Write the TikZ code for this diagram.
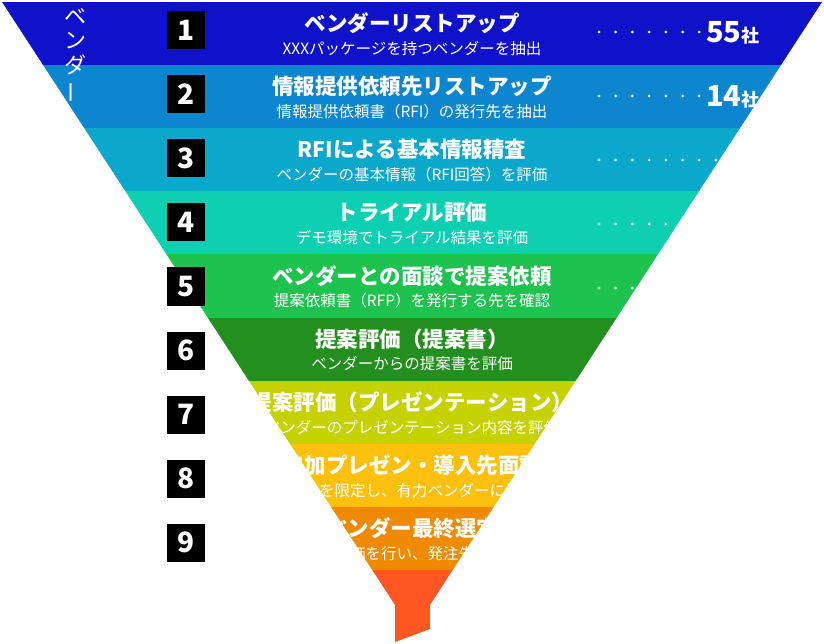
\documentclass[tikz,border=0pt]{standalone}
\usepackage{fontspec}
\usepackage{graphicx}
\setmainfont{Noto Sans CJK JP}
\definecolor{bandA}{HTML}{0F12C8}
\definecolor{bandB}{HTML}{0D86CF}
\definecolor{bandC}{HTML}{0BA8CC}
\definecolor{bandD}{HTML}{0FCFB3}
\definecolor{bandE}{HTML}{1EC24F}
\definecolor{bandF}{HTML}{228F1F}
\definecolor{bandG}{HTML}{C6D100}
\definecolor{bandH}{HTML}{FDC00F}
\definecolor{bandI}{HTML}{F08A03}
\definecolor{spout}{HTML}{FF5722}
\tikzset{
  headtext/.style={text=white, inner sep=0pt, font=\bfseries\fontsize{21.5}{21.5}\selectfont},
  desctext/.style={text=white, inner sep=0pt, font=\fontsize{15.5}{15.5}\selectfont},
  numbox/.style={fill=black, text=white, minimum size=38pt, inner sep=0pt, font=\bfseries\fontsize{28}{28}\selectfont},
  countlabel/.style={text=white, inner sep=0pt, anchor=base west, font=\bfseries\fontsize{29}{29}\selectfont}
}
\begin{document}
\begin{tikzpicture}[x=1pt,y=-1pt]
  \useasboundingbox (0,0) rectangle (824,644);
  %Funnel bands
  \begin{scope}
    \clip (2,2) -- (822,2) -- (430,605) -- (395,605) -- cycle;
    \foreach \c [count=\i from 0] in {bandA,bandB,bandC,bandD,bandE,bandF,bandG,bandH,bandI}
      \fill[\c] (0,{2+63.1*\i}) rectangle (824,{2+63.1*(\i+1)});
  \end{scope}
  %Spout
  \fill[spout] (372.2,569.9) -- (452.7,569.9) -- (430,605) -- (430,629)
    -- (395,642) -- (395,605) -- cycle;

  %Side label
  \node[anchor=north, text=white, inner sep=0pt, align=center,
    font=\fontsize{22}{24.5}\selectfont] (Side) at (75,8)
    {ベ\\ン\\ダ\\\rotatebox[origin=c]{90}{ー}};

  %Steps
  \foreach \head/\desc [count=\i] in {
    ベンダーリストアップ/XXXパッケージを持つベンダーを抽出,
    情報提供依頼先リストアップ/情報提供依頼書（RFI）の発行先を抽出,
    RFIによる基本情報精査/ベンダーの基本情報（RFI回答）を評価,
    トライアル評価/デモ環境でトライアル結果を評価,
    ベンダーとの面談で提案依頼/提案依頼書（RFP）を発行する先を確認,
    提案評価（提案書）/ベンダーからの提案書を評価,
    提案評価（プレゼンテーション）/ベンダーのプレゼンテーション内容を評価,
    追加プレゼン・導入先面談/ベンダーを限定し、有力ベンダーに個別依頼,
    ベンダー最終選定/最終評価を行い、発注先を決定}
  {
    \node[headtext] (Head\i) at (412,{2+63.1*(\i-1)+21.5}) {\head};
    \node[desctext] (Desc\i) at (412,{2+63.1*(\i-1)+46.5}) {\desc};
    \node[numbox] (Num\i) at (186,{30.5+64*(\i-1)}) {\i};
  }

  %Dot leaders
  \foreach \r/\k in {1/7,2/7,3/9,4/9,5/9}
    \foreach \d in {1,...,\k}
      \fill[white] ({582.3+16.7*\d},{32+64*(\r-1)}) circle [radius=1.5];

  \node[countlabel] (Count1) at (706,43) {55{\fontsize{18}{18}\selectfont 社}};
  \node[countlabel] (Count2) at (706,107) {14{\fontsize{18}{18}\selectfont 社}};
\end{tikzpicture}
\end{document}
